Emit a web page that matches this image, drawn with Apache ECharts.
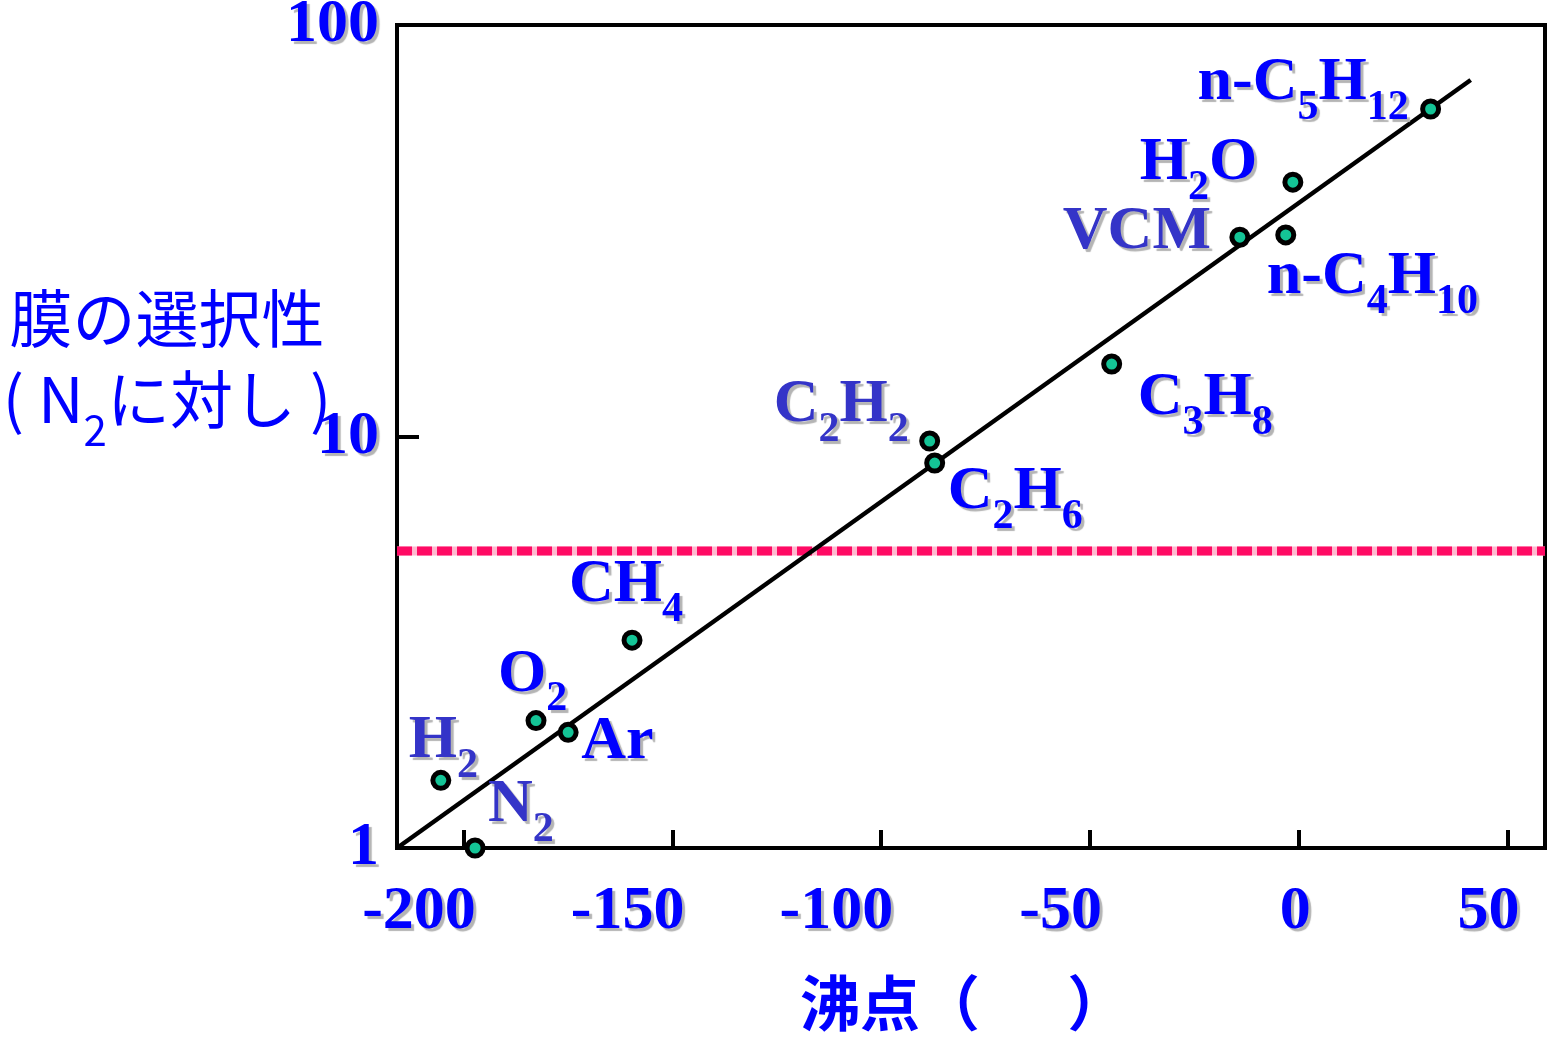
<!DOCTYPE html>
<html>
<head>
<meta charset="utf-8">
<script src="https://cdn.jsdelivr.net/npm/echarts@6/dist/echarts.min.js"></script>
<style>
  html, body { margin: 0; padding: 0; background: #fff; }
  #chart { width: 1548px; height: 1037px; }
</style>
</head>
<body>
<div id="chart"></div>
<script>
// ---- data ----
const compounds    = ['H2', 'N2', 'O2', 'Ar', 'CH4', 'C2H2', 'C2H6', 'C3H8', 'VCM', 'n-C4H10', 'H2O', 'n-C5H12'];
const boilingPoint = [-205.5, -197.3, -182.7, -175.0, -159.7, -88.4, -87.2, -44.8, -14.1, -3.1, -1.4, 31.6];
const selectivity  = [1.46, 1.0, 2.04, 1.91, 3.20, 9.75, 8.62, 15.0, 30.5, 30.9, 41.5, 62.5];
const fitX = [-216, 41.2];
const fitY = [1.0, 73.5];
const thresholdY = 5.27;
const xTicks = [-200, -150, -100, -50, 0, 50];
const xRange = [-216, 59];
const yRange = [1, 100];

// ---- styling (not data) ----
const BLUE = '#0000ff', PURPLE = '#3434c8';
const labelColors = [PURPLE, PURPLE, BLUE, BLUE, BLUE, PURPLE, BLUE, BLUE, PURPLE, BLUE, BLUE, BLUE];
const labelOffsets = [[-32,-70],[13,-74],[-38,-77],[13,-21],[-63,-86],[-156,-67],[13,-2],[26,3],[-177,-36],[-19,11],[-153,-50],[-233,-57]];
const SERIF = '"Liberation Serif","Times New Roman",serif';
const CJK = '"Noto Sans CJK JP","Noto Sans CJK SC",sans-serif';
const SHADOW = { textShadowColor: '#b4b4b4', textShadowBlur: 1, textShadowOffsetX: 3, textShadowOffsetY: 3 };

function richName(name) {
  let s = '{m|' + name.replace(/(\d+)/g, '}{s|$1}{m|') + '}';
  return s.replace(/\{m\|\}/g, '');
}

const chart = echarts.init(document.getElementById('chart'));

const scatterData = compounds.map((c, i) => ({
  name: c,
  value: [boilingPoint[i], selectivity[i]],
  label: {
    formatter: richName(c),
    offset: labelOffsets[i],
    rich: {
      m: Object.assign({ fontFamily: SERIF, fontWeight: 'bold', fontSize: 62, lineHeight: 62, verticalAlign: 'top', color: labelColors[i] }, SHADOW),
      s: Object.assign({ fontFamily: SERIF, fontWeight: 'bold', fontSize: 42, lineHeight: 42, verticalAlign: 'top', padding: [35, 0, 0, 0], color: labelColors[i] }, SHADOW)
    }
  }
}));

const option = {
  backgroundColor: '#fff',
  animation: false,
  grid: { left: 397, top: 25, right: 3, bottom: 189, show: true, borderColor: '#000', borderWidth: 4, outerBoundsMode: 'none' },
  xAxis: {
    type: 'value', min: xRange[0], max: xRange[1],
    axisLine: { onZero: false, lineStyle: { color: '#000', width: 4 } },
    axisTick: { inside: true, length: 18, customValues: xTicks, lineStyle: { color: '#000', width: 4 } },
    axisLabel: Object.assign({ customValues: xTicks, margin: 33, color: BLUE, fontFamily: SERIF, fontWeight: 'bold', fontSize: 62, align: 'right', padding: [0, -12, 0, 0] }, SHADOW),
    splitLine: { show: false }
  },
  yAxis: {
    type: 'log', logBase: 10, min: yRange[0], max: yRange[1],
    axisLine: { onZero: false, lineStyle: { color: '#000', width: 4 } },
    axisTick: { inside: true, length: 22, lineStyle: { color: '#000', width: 4 } },
    minorTick: { show: false },
    axisLabel: Object.assign({ margin: 18, color: BLUE, fontFamily: SERIF, fontWeight: 'bold', fontSize: 62 }, SHADOW),
    splitLine: { show: false }
  },
  graphic: [
    {
      type: 'text', x: 167, y: 368,
      style: {
        text: '{a|膜の選択性}\n{a|( N}{s|2}{a|に対し )}',
        align: 'center', verticalAlign: 'middle',
        rich: {
          a: { fontFamily: CJK, fontSize: 63, lineHeight: 81, verticalAlign: 'top', fill: BLUE, color: BLUE },
          s: { fontFamily: CJK, fontSize: 42, lineHeight: 42, verticalAlign: 'top', padding: [41, 0, 0, 0], fill: BLUE, color: BLUE }
        }
      }
    },
    {
      type: 'text', x: 800, y: 1003,
      style: {
        text: '沸点（\u3000  ）', align: 'left', verticalAlign: 'middle',
        fontFamily: CJK, fontWeight: 'bold', fontSize: 60, fill: BLUE,
        shadowColor: '#b4b4b4', shadowBlur: 1, shadowOffsetX: 3, shadowOffsetY: 3
      }
    }
  ],
  series: [
    {
      type: 'line', name: 'threshold-base', silent: true, symbol: 'none', z: 2,
      data: [[xRange[0], thresholdY], [xRange[1], thresholdY]],
      lineStyle: { color: '#ffb8cf', width: 9 }
    },
    {
      type: 'line', name: 'threshold', silent: true, symbol: 'none', z: 3,
      data: [[xRange[0], thresholdY], [xRange[1], thresholdY]],
      lineStyle: { color: '#ff0a64', width: 9, type: [15, 5] }
    },
    {
      type: 'line', name: 'fit', silent: true, symbol: 'none', z: 4,
      data: fitX.map((x, i) => [x, fitY[i]]),
      lineStyle: { color: '#000', width: 4.5 }
    },
    {
      type: 'scatter', name: 'gases', z: 5, clip: false,
      symbol: 'circle', symbolSize: 16,
      itemStyle: { color: '#14c496', borderColor: '#000', borderWidth: 5, opacity: 1 },
      label: { show: true, position: 'inside', align: 'left', verticalAlign: 'top' },
      data: scatterData
    }
  ]
};
chart.setOption(option);
</script>
</body>
</html>
